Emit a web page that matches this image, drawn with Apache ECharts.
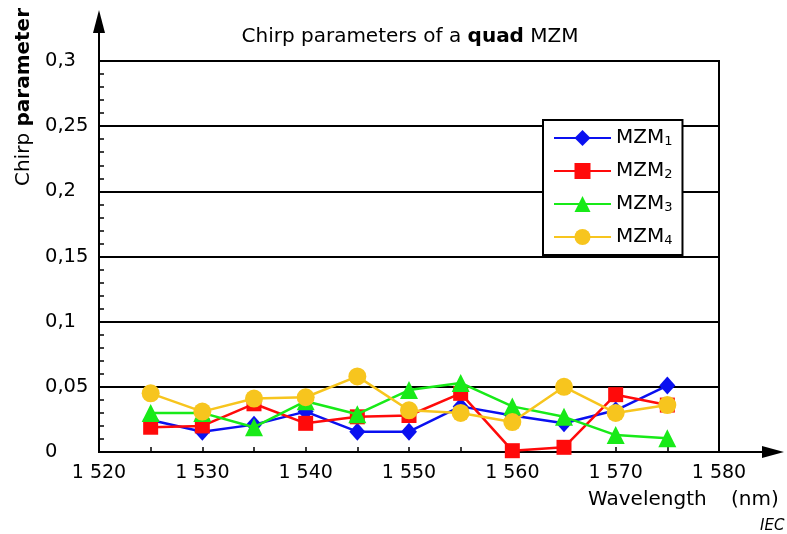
<!DOCTYPE html>
<html><head><meta charset="utf-8">
<script src="https://cdn.jsdelivr.net/npm/echarts@6/dist/echarts.min.js"></script>
<style>html,body{margin:0;padding:0;background:#fff}#c{width:787px;height:534px}</style>
</head><body><div id="c"></div>
<script>
const wavelengths = [1525, 1530, 1535, 1540, 1545, 1550, 1555, 1560, 1565, 1570, 1575];
const mzm1 = [0.0245, 0.0156, 0.021, 0.031, 0.0156, 0.0156, 0.035, 0.028, 0.022, 0.032, 0.051];
const mzm2 = [0.019, 0.020, 0.037, 0.022, 0.027, 0.028, 0.045, 0.001, 0.0036, 0.044, 0.036];
const mzm3 = [0.030, 0.030, 0.019, 0.039, 0.029, 0.0475, 0.053, 0.035, 0.027, 0.013, 0.0105];
const mzm4 = [0.045, 0.031, 0.041, 0.042, 0.058, 0.032, 0.030, 0.023, 0.050, 0.030, 0.036];
const seriesNames = ['MZM1', 'MZM2', 'MZM3', 'MZM4'];
const xTickValues = [1520, 1530, 1540, 1550, 1560, 1570, 1580];
const xTickLabels = ['1 520', '1 530', '1 540', '1 550', '1 560', '1 570', '1 580'];
const yTickLabels = ['0', '0,05', '0,1', '0,15', '0,2', '0,25', '0,3'];

const FONT = 'DejaVu Sans';
const colors = ['#0a10f0', '#ff0a0a', '#18ea18', '#f7c51e'];
const symbols = ['diamond', 'rect', 'triangle', 'circle'];
const symSizes = [[16, 18], 15, 18, 18];
const dataSets = [mzm1, mzm2, mzm3, mzm4];

const chart = echarts.init(document.getElementById('c'), null, {renderer: 'canvas'});
const series = seriesNames.map((n, i) => ({
  name: n, type: 'line',
  data: wavelengths.map((w, k) => [w, dataSets[i][k]]),
  symbol: symbols[i], symbolSize: symSizes[i],
  lineStyle: {color: colors[i], width: 2.5},
  itemStyle: {color: colors[i]},
  emphasis: {disabled: true}, animation: false, z: 3 + i
}));

chart.setOption({
  animation: false,
  backgroundColor: '#fff',
  grid: {left: 99, right: 68, top: 61, bottom: 82, show: true, borderColor: '#000', borderWidth: 2, backgroundColor: 'transparent'},
  xAxis: {
    type: 'value', min: 1520, max: 1580, interval: 10,
    axisLine: {show: true, lineStyle: {color: '#000', width: 2}},
    axisTick: {show: true, inside: true, length: 5, lineStyle: {color: '#000', width: 1.5}},
    minorTick: {show: true, splitNumber: 2, length: 5, lineStyle: {color: '#000', width: 1.5}},
    splitLine: {show: false},
    axisLabel: {color: '#000', fontFamily: FONT, fontSize: 19, margin: 12,
      formatter: v => { const i = xTickValues.indexOf(v); return i >= 0 ? xTickLabels[i] : ''; }}
  },
  yAxis: {
    type: 'value', min: 0, max: 0.3, interval: 0.05,
    axisLine: {show: true, lineStyle: {color: '#000', width: 2}},
    axisTick: {show: true, inside: true, length: 5, lineStyle: {color: '#000', width: 1.5}},
    minorTick: {show: true, splitNumber: 5, length: 5, lineStyle: {color: '#000', width: 1.5}},
    splitLine: {show: true, lineStyle: {color: '#000', width: 2}},
    axisLabel: {color: '#000', fontFamily: FONT, fontSize: 19.5, margin: 54, align: 'left',
      formatter: v => yTickLabels[Math.round(v / 0.05)]}
  },
  legend: {
    orient: 'vertical', left: 543, top: 120,
    padding: [8, 10, 8, 10],
    itemWidth: 57, itemHeight: 20, itemGap: 13,
    backgroundColor: '#fff', borderColor: '#000', borderWidth: 2,
    data: seriesNames,
    formatter: n => '{a|MZM}{s|' + n.slice(3) + '}',
    textStyle: {color: '#000', fontFamily: FONT,
      rich: {a: {fontSize: 20, lineHeight: 20, fontFamily: FONT, color: '#000'},
             s: {fontSize: 13, lineHeight: 10, verticalAlign: 'bottom', fontFamily: FONT, color: '#000'}}}
  },
  graphic: [
    {type: 'text', x: 410, y: 37, style: {text: '{n|Chirp parameters of a }{b|quad}{n| MZM}', align: 'center', verticalAlign: 'middle',
      rich: {n: {fontSize: 20, fontFamily: FONT, fill: '#000'}, b: {fontSize: 20, fontFamily: FONT, fontWeight: 'bold', fill: '#000'}}}},
    {type: 'text', x: 24, y: 97, rotation: Math.PI / 2, style: {text: '{n|Chirp }{b|parameter}', align: 'center', verticalAlign: 'middle',
      rich: {n: {fontSize: 20, fontFamily: FONT, fill: '#000'}, b: {fontSize: 20, fontFamily: FONT, fontWeight: 'bold', fill: '#000'}}}},
    {type: 'text', x: 588, y: 500, style: {text: 'Wavelength', fontSize: 20, fontFamily: FONT, fill: '#000', align: 'left', verticalAlign: 'middle'}},
    {type: 'text', x: 731, y: 500, style: {text: '(nm)', fontSize: 20, fontFamily: FONT, fill: '#000', align: 'left', verticalAlign: 'middle'}},
    {type: 'text', x: 760, y: 526, style: {text: 'IEC', fontSize: 15, fontFamily: FONT, fontStyle: 'italic', fill: '#000', align: 'left', verticalAlign: 'middle'}},
    {type: 'line', shape: {x1: 719, y1: 452, x2: 765, y2: 452}, style: {stroke: '#000', lineWidth: 2}},
    {type: 'polygon', shape: {points: [[762, 446], [784, 452], [762, 458]]}, style: {fill: '#000'}},
    {type: 'line', shape: {x1: 99, y1: 61, x2: 99, y2: 30}, style: {stroke: '#000', lineWidth: 2}},
    {type: 'polygon', shape: {points: [[93, 33], [99, 10], [105, 33]]}, style: {fill: '#000'}}
  ],
  series: series
});
</script>
</body></html>
